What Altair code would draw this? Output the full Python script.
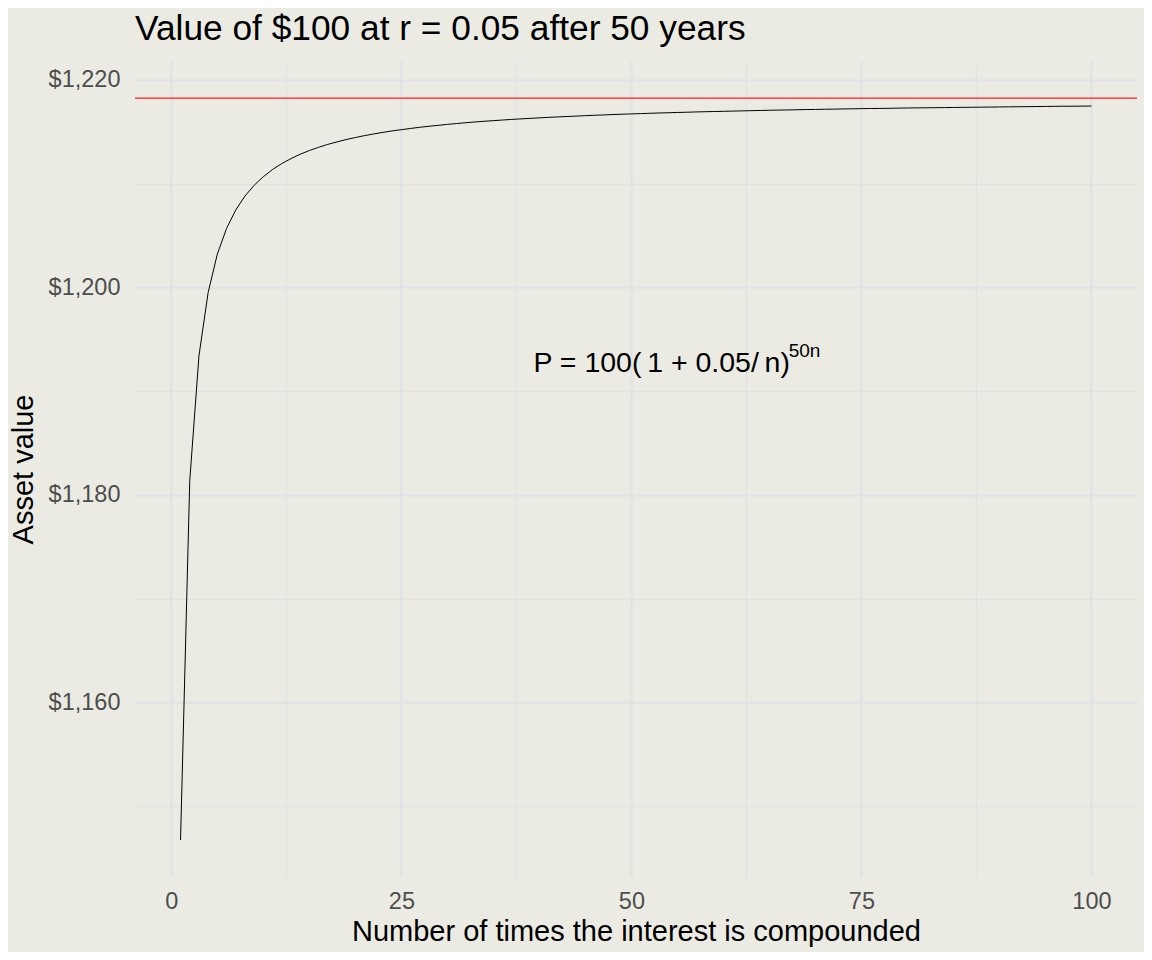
import altair as alt
import pandas as pd

# Number of compounding periods (n) and the resulting value of $100 after 50 years
n_times = list(range(1, 101))
asset_value = [
    1146.74, 1181.37, 1193.40, 1199.52, 1203.22, 1205.69, 1207.47, 1208.81, 1209.85, 1210.68,
    1211.37, 1211.94, 1212.42, 1212.84, 1213.20, 1213.51, 1213.79, 1214.03, 1214.26, 1214.45,
    1214.64, 1214.80, 1214.95, 1215.09, 1215.21, 1215.33, 1215.44, 1215.54, 1215.63, 1215.72,
    1215.80, 1215.88, 1215.95, 1216.02, 1216.08, 1216.14, 1216.20, 1216.25, 1216.30, 1216.35,
    1216.40, 1216.44, 1216.48, 1216.52, 1216.56, 1216.60, 1216.63, 1216.67, 1216.70, 1216.73,
    1216.76, 1216.79, 1216.82, 1216.84, 1216.87, 1216.89, 1216.92, 1216.94, 1216.96, 1216.98,
    1217.00, 1217.02, 1217.04, 1217.06, 1217.08, 1217.10, 1217.11, 1217.13, 1217.15, 1217.16,
    1217.18, 1217.19, 1217.21, 1217.22, 1217.24, 1217.25, 1217.26, 1217.27, 1217.29, 1217.30,
    1217.31, 1217.32, 1217.33, 1217.34, 1217.35, 1217.36, 1217.37, 1217.38, 1217.39, 1217.40,
    1217.41, 1217.42, 1217.43, 1217.44, 1217.45, 1217.46, 1217.47, 1217.47, 1217.48, 1217.49,
]
limit_value = [1218.25]  # continuous compounding limit

x_ticks = [0, 12.5, 25, 37.5, 50, 62.5, 75, 87.5, 100]
y_ticks = [1150, 1160, 1170, 1180, 1190, 1200, 1210, 1220]

formula_main = ["P = 100(\u20091 + 0.05/\u2009n)"]
formula_sup = ["50n"]

FONT = "Liberation Sans"
BG = "#EBEBE4"
GRID = "#E2E2E6"

df = pd.DataFrame({"n": n_times, "value": asset_value})

x_scale = alt.Scale(domain=[-3.95, 104.95], nice=False, zero=False)
y_scale = alt.Scale(domain=[1143.17, 1221.83], nice=False, zero=False)

x_axis = alt.Axis(
    values=x_ticks,
    labelExpr="datum.value % 25 == 0 ? format(datum.value, 'd') : ''",
    title="Number of times the interest is compounded",
    grid=True,
    gridColor=GRID,
    gridWidth={"condition": {"test": "datum.value % 25 != 0", "value": 1.3}, "value": 2.5},
    domain=False,
    ticks=False,
    labelFontSize=23.5,
    labelColor="#4D4D4D",
    labelPadding=12,
    titleFontSize=29,
    titleColor="#000000",
    titleFontWeight="normal",
    titlePadding=5,
    labelFont=FONT,
    titleFont=FONT,
)

y_axis = alt.Axis(
    values=y_ticks,
    labelExpr="datum.value % 20 == 0 ? '$' + format(datum.value, ',') : ''",
    title="Asset value",
    grid=True,
    gridColor=GRID,
    gridWidth={"condition": {"test": "datum.value % 20 != 0", "value": 1.3}, "value": 2.5},
    domain=False,
    ticks=False,
    labelFontSize=23.5,
    labelColor="#4D4D4D",
    labelPadding=15,
    titleFontSize=29,
    titleColor="#000000",
    titleFontWeight="normal",
    titlePadding=10,
    labelFont=FONT,
    titleFont=FONT,
)

line = alt.Chart(df).mark_line(color="#000000", strokeWidth=1).encode(
    x=alt.X("n:Q", scale=x_scale, axis=x_axis),
    y=alt.Y("value:Q", scale=y_scale, axis=y_axis),
)

limit_rule = alt.Chart(pd.DataFrame({"limit": limit_value})).mark_rule(
    color="#FF1A1A", strokeWidth=1.1
).encode(y=alt.Y("limit:Q", scale=y_scale))

main_text = alt.Chart(pd.DataFrame({"t": formula_main})).mark_text(
    align="left", baseline="alphabetic", fontSize=28.5, font=FONT, color="#000000"
).encode(x=alt.datum(39.35), y=alt.datum(1191.84), text="t:N")

sup_text = alt.Chart(pd.DataFrame({"t": formula_sup})).mark_text(
    align="left", baseline="alphabetic", fontSize=19, font=FONT, color="#000000"
).encode(x=alt.datum(67.1), y=alt.datum(1193.3), text="t:N")

chart = alt.layer(line, limit_rule, main_text, sup_text).properties(
    width=1002,
    height=816,
    title=alt.TitleParams(
        "Value of $100 at r = 0.05 after 50 years",
        anchor="start",
        frame="group",
        fontSize=35.3,
        font=FONT,
        fontWeight="normal",
        color="#000000",
        offset=14,
    ),
    autosize=alt.AutoSizeParams(type="none"),
    padding={"left": 127, "top": 53, "right": 7, "bottom": 75},
    background=BG,
).configure_view(stroke=None, fill=BG)

chart.save("out.html", embed_options={"renderer": "svg", "actions": False})
